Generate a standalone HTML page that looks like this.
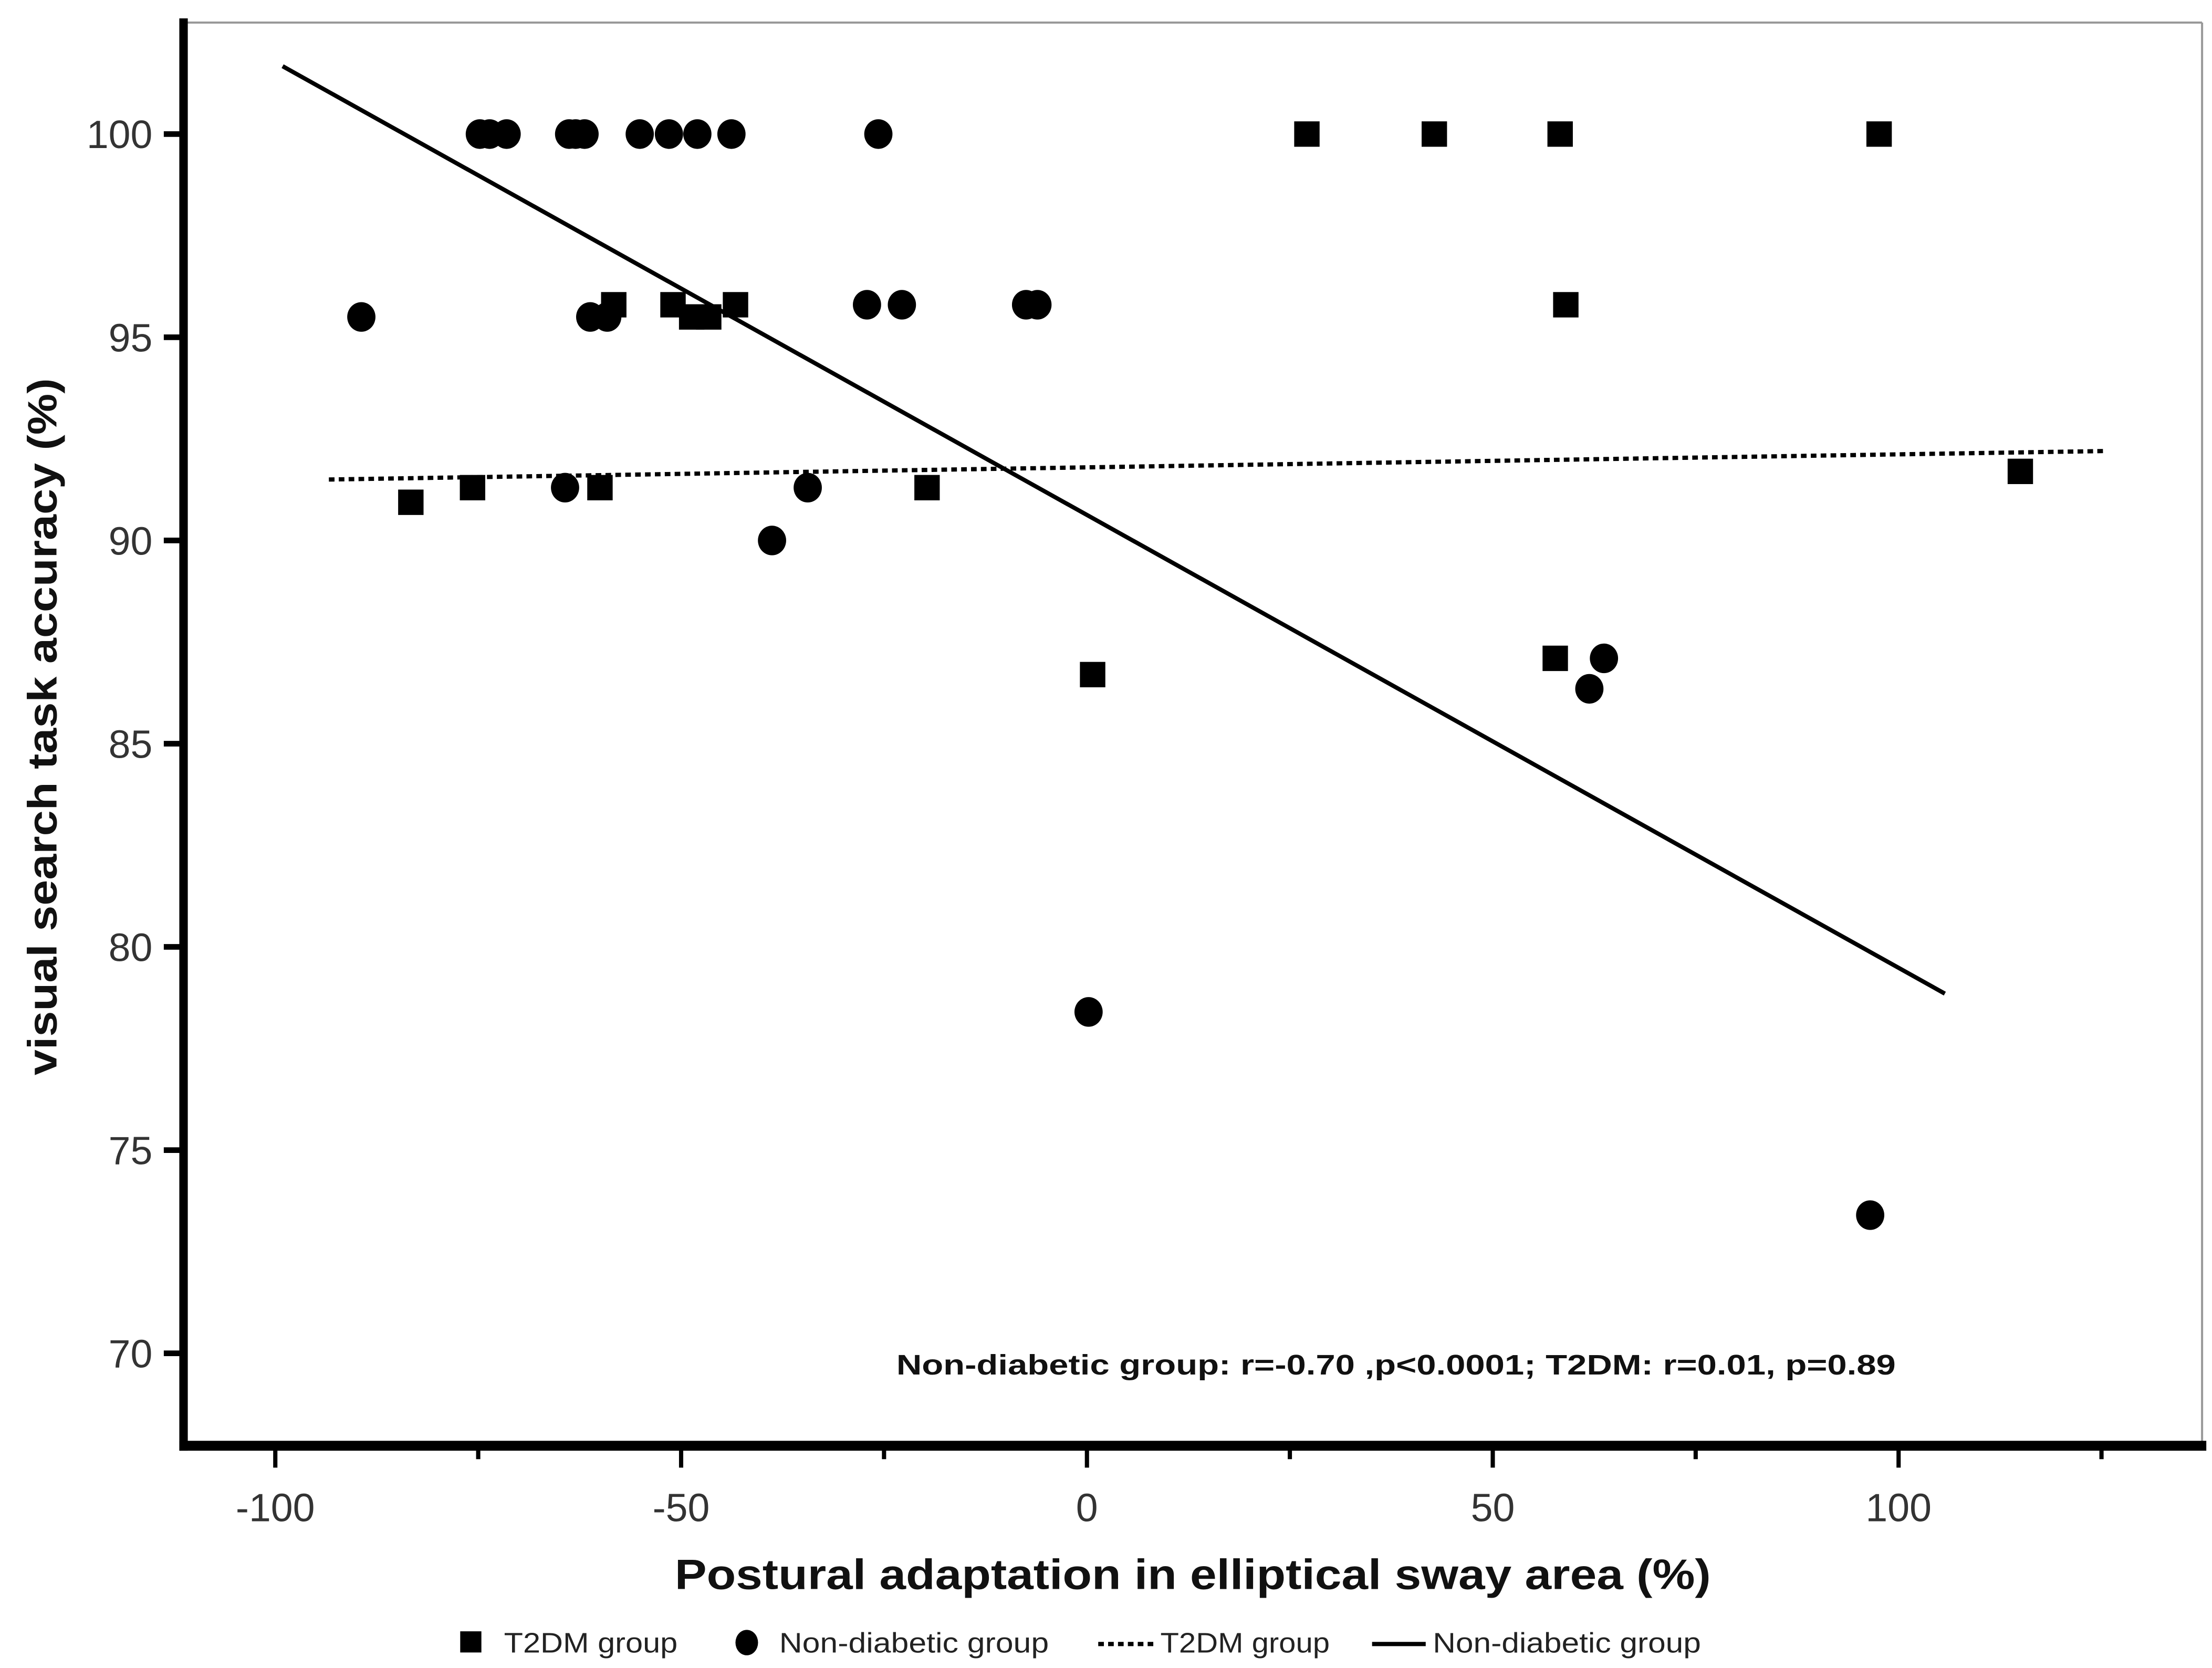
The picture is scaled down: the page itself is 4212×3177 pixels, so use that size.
<!DOCTYPE html>
<html><head><meta charset="utf-8"><style>
html,body{margin:0;padding:0;background:#fff;}
svg{display:block;}
text{font-family:"Liberation Sans",sans-serif;}
</style></head><body>
<svg id="chart" width="4212" height="3177" viewBox="0 0 1567 1182" xmlns="http://www.w3.org/2000/svg">
<rect x="0" y="0" width="1567" height="1182" fill="#fff"/>
<line x1="130" y1="16" x2="1560" y2="16" stroke="#999" stroke-width="1.5"/>
<line x1="1560" y1="16" x2="1560" y2="1022" stroke="#999" stroke-width="1.5"/>
<g id="axes"></g>
<g id="fits"></g>
<g id="marks"></g>
<text transform="translate(40,515) rotate(-90)" text-anchor="middle" font-size="29" font-weight="bold" fill="#111" textLength="494" lengthAdjust="spacingAndGlyphs">visual search task accuracy (%)</text>
<text x="845" y="1126" text-anchor="middle" font-size="30" font-weight="bold" fill="#111" textLength="734" lengthAdjust="spacingAndGlyphs">Postural adaptation in elliptical sway area (%)</text>
<text x="635" y="974" font-size="20" font-weight="bold" fill="#111" textLength="708" lengthAdjust="spacingAndGlyphs">Non-diabetic group: r=-0.70 ,p&lt;0.0001; T2DM: r=0.01, p=0.89</text>
<g>
  <g>
    <rect x="326" y="1156" width="15" height="15" fill="#000"/>
    <text x="357" y="1171" font-size="20" fill="#222" textLength="123" lengthAdjust="spacingAndGlyphs">T2DM group</text>
  </g>
  <g>
    <ellipse cx="529" cy="1164" rx="8" ry="9" fill="#000"/>
    <text x="552" y="1171" font-size="20" fill="#222" textLength="191" lengthAdjust="spacingAndGlyphs">Non-diabetic group</text>
  </g>
  <g>
    <line x1="778" y1="1165" x2="817" y2="1165" stroke="#000" stroke-width="3" stroke-dasharray="4,3"/>
    <text x="822" y="1171" font-size="20" fill="#222" textLength="120" lengthAdjust="spacingAndGlyphs">T2DM group</text>
  </g>
  <g>
    <line x1="972" y1="1165" x2="1010" y2="1165" stroke="#000" stroke-width="3"/>
    <text x="1015" y="1171" font-size="20" fill="#222" textLength="190" lengthAdjust="spacingAndGlyphs">Non-diabetic group</text>
  </g>
</g>
</svg>
<script>
const xTicks = [-100, -50, 0, 50, 100];
const xMinorTicks = [-75, -25, 25, 75, 125];
const yTicks = [70, 75, 80, 85, 90, 95, 100];
const t2dmX = [-83.3, -75.7, -60, -58.3, -51, -48.7, -46.6, -43.3, -19.7, 0.7, 27.1, 42.8, 58.3, 59, 57.7, 97.6, 115];
const t2dmY = [90.94, 91.3, 91.3, 95.8, 95.8, 95.5, 95.5, 95.8, 91.3, 86.7, 100, 100, 100, 95.8, 87.1, 100, 91.7];
const ndX = [-89.4, -74.8, -73.6, -71.5, -63.8, -63, -61.9, -55.1, -51.5, -48, -43.8, -25.7, -61.2, -59.1, -64.3, -38.8, -34.4, -27.1, -22.8, -7.5, -6.1, 0.2, 61.9, 63.7, 96.5];
const ndY = [95.5, 100, 100, 100, 100, 100, 100, 100, 100, 100, 100, 100, 95.5, 95.5, 91.3, 90, 91.3, 95.8, 95.8, 95.8, 95.8, 78.4, 86.35, 87.1, 73.4];
const ndFitX = [-99.1, 105.7];
const ndFitY = [101.67, 78.85];
const t2dmFitX = [-93.4, 125.2];
const t2dmFitY = [91.5, 92.2];

const NS = 'http://www.w3.org/2000/svg';
function sx(v){ return 770 + v * 5.75; }
function sy(v){ return 95 + (100 - v) * 28.8; }
function mk(tag, attrs, parent){
  const e = document.createElementNS(NS, tag);
  for (const k in attrs) e.setAttribute(k, attrs[k]);
  parent.appendChild(e); return e;
}
const axes = document.getElementById('axes');
const yAxis = mk('line', {x1:130, y1:13, x2:130, y2:1028, stroke:'#000', 'stroke-width':6}, axes);


const xAxis = mk('line', {x1:127, y1:1024.5, x2:1563, y2:1024.5, stroke:'#000', 'stroke-width':7}, axes);


yTicks.forEach(v => {
  const t = mk('line', {x1:116, y1:sy(v), x2:130, y2:sy(v), stroke:'#000', 'stroke-width':4}, axes);
  
  
  const l = mk('text', {x:108, y:sy(v)+10, 'text-anchor':'end', 'font-size':28, fill:'#333'}, axes);
  l.textContent = v;
  
  
});
xTicks.forEach(v => {
  const t = mk('line', {x1:sx(v), y1:1024, x2:sx(v), y2:1040, stroke:'#000', 'stroke-width':3}, axes);
  
  
  const l = mk('text', {x:sx(v), y:1078, 'text-anchor':'middle', 'font-size':28, fill:'#333'}, axes);
  l.textContent = v;
  
  
});
xMinorTicks.forEach(v => {
  const t = mk('line', {x1:sx(v), y1:1024, x2:sx(v), y2:1034, stroke:'#000', 'stroke-width':3}, axes);
  
  
});
const fits = document.getElementById('fits');
const f1 = mk('line', {x1:sx(ndFitX[0]), y1:sy(ndFitY[0]), x2:sx(ndFitX[1]), y2:sy(ndFitY[1]), stroke:'#000', 'stroke-width':3}, fits);


const f2 = mk('line', {x1:sx(t2dmFitX[0]), y1:sy(t2dmFitY[0]), x2:sx(t2dmFitX[1]), y2:sy(t2dmFitY[1]), stroke:'#000', 'stroke-width':3, 'stroke-dasharray':'4,3'}, fits);


const marks = document.getElementById('marks');
ndX.forEach((v, i) => {
  const c = mk('ellipse', {cx:sx(v), cy:sy(ndY[i]), rx:10, ry:10.5, fill:'#000'}, marks);
  
  
});
t2dmX.forEach((v, i) => {
  const r = mk('rect', {x:sx(v)-9, y:sy(t2dmY[i])-9, width:18, height:18, fill:'#000'}, marks);
  
  
});
</script>
</body></html>
